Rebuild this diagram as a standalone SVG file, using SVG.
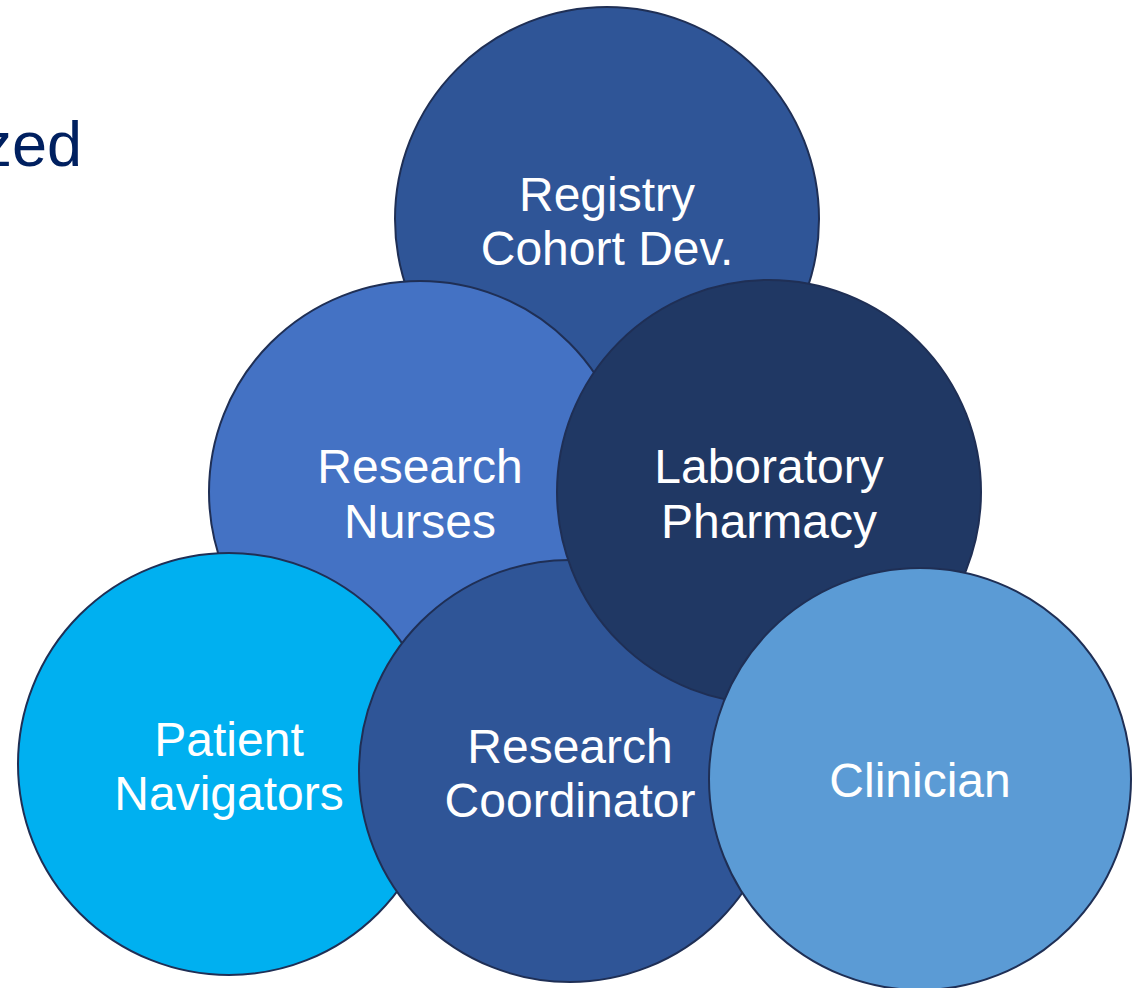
<svg xmlns="http://www.w3.org/2000/svg" width="1132" height="988" viewBox="0 0 1132 988">
<style>
.c{stroke:#1F2F55;stroke-width:2}
.t{font-family:"Liberation Sans",Arial,sans-serif;font-size:48px;fill:#fff;text-anchor:middle}
</style>
<rect width="1132" height="988" fill="#fff"/>
<text x="82" y="166" font-family="Liberation Sans, Arial, sans-serif" font-size="63" fill="#002060" text-anchor="end">zed</text>
<g id="registry"><circle class="c" cx="607" cy="219" r="212" fill="#2F5597"/><text class="t" x="607" y="211">Registry</text><text class="t" x="607" y="265">Cohort Dev.</text></g>
<g id="nurses"><circle class="c" cx="420" cy="492" r="211" fill="#4472C4"/><text class="t" x="420" y="483">Research</text><text class="t" x="420" y="538">Nurses</text></g>
<g id="patient"><circle class="c" cx="229" cy="764" r="211" fill="#00B0F0"/><text class="t" x="229" y="756">Patient</text><text class="t" x="229" y="810">Navigators</text></g>
<g id="coordinator"><circle class="c" cx="570" cy="771" r="211" fill="#2F5597"/><text class="t" x="570" y="763">Research</text><text class="t" x="570" y="817">Coordinator</text></g>
<g id="laboratory"><circle class="c" cx="769" cy="492" r="212" fill="#203864"/><text class="t" x="769" y="483">Laboratory</text><text class="t" x="769" y="538">Pharmacy</text></g>
<g id="clinician"><circle class="c" cx="920" cy="779" r="211" fill="#5B9BD5"/><text class="t" x="920" y="797">Clinician</text></g>
<g id="connectors"/>
</svg>
